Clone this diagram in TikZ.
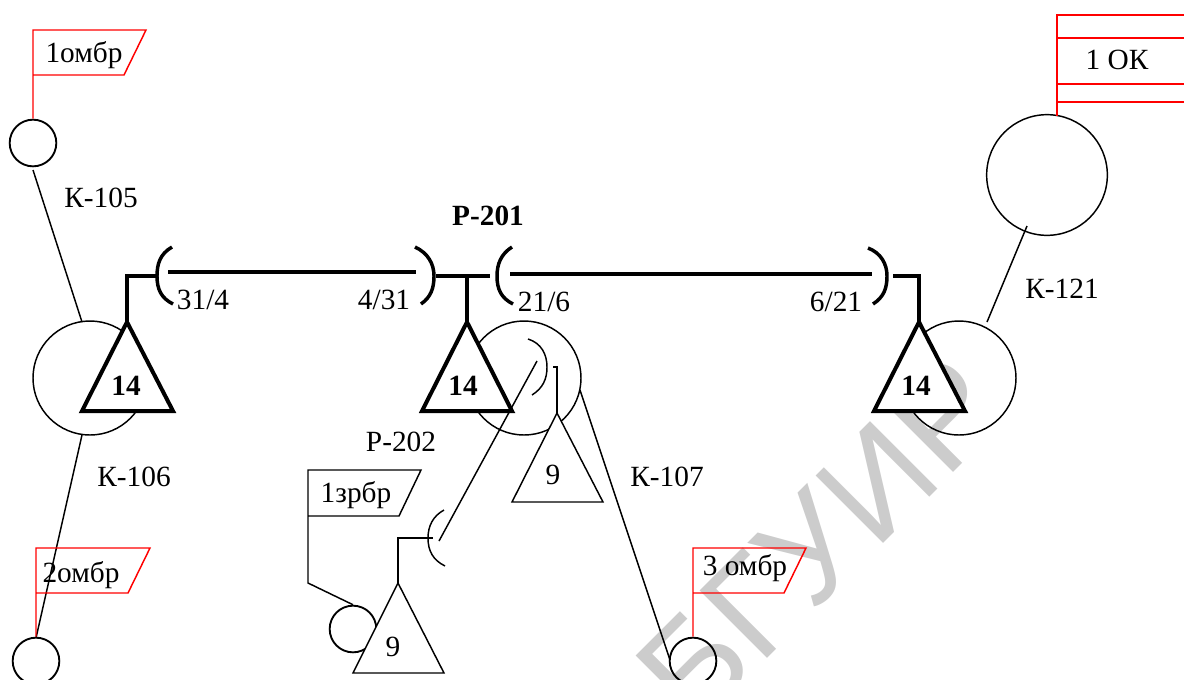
\documentclass[tikz,border=0pt]{standalone}
\usepackage{fontspec}
\setmainfont{Liberation Serif}
\newfontfamily\wmfont{Liberation Sans}
\tikzset{
  lab/.style={inner sep=0pt,font=\fontsize{22}{26}\selectfont},
  num/.style={inner sep=0pt,font=\fontsize{22}{26}\selectfont\bfseries},
  post/.style={draw,circle,line width=1.4pt,inner sep=0pt,minimum size=35pt},
  base/.style={draw,circle,line width=1.1pt,inner sep=0pt,minimum size=85.5pt},
  wire/.style={line width=1.1pt},
  heavy/.style={line width=2.3pt},
  bow/.style={line width=2.6pt},
  flagr/.style={draw=red,line width=1.1pt},
  tria/.style={draw,fill=white,line width=1.1pt,line join=miter},
  trib/.style={draw,fill=white,line width=3pt,line join=miter}
}
\begin{document}
\begin{tikzpicture}[x=0.75pt,y=-0.75pt]
\useasboundingbox (0,0) rectangle (1184,679);
%watermark
\clip (0,0) rectangle (1184,679);
\node (wm) [rotate=45,text=black!20,font=\wmfont\fontsize{104}{110}\selectfont,inner sep=0pt] at (820,540) {БГУИР};
%circles
\node (ombrone) [post] at (33,143) {};
\node (ombrtwo) [post] at (36,661) {};
\node (ombrthree) [post] at (693,661) {};
\node (zrbr) [post] at (353,629) {};
\node (baseone) [base] at (90,378) {};
\node (basetwo) [base] at (524,378) {};
\node (basethree) [base] at (959,378) {};
\node (okbase) [base,minimum size=90.5pt] at (1047,175) {};
%points
\coordinate (apexone) at (127,322);
\coordinate (apextwo) at (467,322);
\coordinate (apexthree) at (919,322);
\coordinate (apexnine) at (557,413);
\coordinate (apexlow) at (398,583);
\coordinate (kone) at (33,170);
\coordinate (ktwo) at (82,322);
\coordinate (kthree) at (82,435);
\coordinate (kfour) at (36,638);
\coordinate (kfive) at (987,322);
\coordinate (ksix) at (1027,226);
\coordinate (kseven) at (580,390);
\coordinate (keight) at (670,660);
\coordinate (rone) at (537,361);
\coordinate (rtwo) at (439,541);
%cables
\draw [wire] (kone) -- (ktwo);
\draw [wire] (kthree) -- (kfour);
\draw [wire] (kfive) -- (ksix);
\draw [wire] (kseven) -- (keight);
\draw [wire] (rone) -- (rtwo);
%flags
\draw [flagr] (ombrone.north) -- (33,30) -- (146,30) -- (124,75) -- (33,75);
\draw [flagr] (ombrtwo.north) -- (36,548) -- (150,548) -- (128,593) -- (36,593);
\draw [flagr] (ombrthree.north) -- (693,548) -- (806,548) -- (784,593) -- (693,593);
\draw [flagr] (1057,115.5) -- (1057,15) -- (1184,15);
\draw [flagr] (1057,38) -- (1184,38);
\draw [flagr] (1057,84) -- (1184,84);
\draw [flagr] (1057,102) -- (1184,102);
\draw [wire] (zrbr.north) -- (308,583) -- (308,470) -- (421,470) -- (399,516) -- (308,516);
%triangles
\draw [trib] (apexone) -- ++(-45,89) -- ++(91,0) -- cycle;
\draw [trib] (apextwo) -- ++(-45,89) -- ++(90,0) -- cycle;
\draw [trib] (apexthree) -- ++(-45,89) -- ++(91,0) -- cycle;
\draw [tria] (apexnine) -- ++(-45,89) -- ++(91,0) -- cycle;
\draw [tria] (apexlow) -- ++(-45,90) -- ++(91,0) -- cycle;
%lines
\draw [heavy] (apexone) -- (127,276) -- (157,276);
\draw [heavy] (436,276) -- (490,276);
\draw [heavy] (apextwo) -- (467,276);
\draw [heavy] (893,276) -- (919,276) -- (apexthree);
\draw [heavy] (168,272) -- (416,272);
\draw [heavy] (510,274) -- (872,274);
\draw [bow] (172,247) .. controls (160,254) and (157,264) .. (157,276) .. controls (157,289) and (161,298) .. (173,304);
\draw [bow] (415,247) .. controls (428,253) and (434,264) .. (434,276) .. controls (434,288) and (431,297) .. (421,304);
\draw [bow] (512,247) .. controls (501,254) and (497,264) .. (497,276) .. controls (497,289) and (501,298) .. (513,304);
\draw [bow] (868,248) .. controls (881,253) and (887,264) .. (887,276) .. controls (887,288) and (884,297) .. (873,304);
\draw [wire] (528,339) .. controls (541,343) and (547,354) .. (547,367) .. controls (547,379) and (543,388) .. (532,395);
\draw [wire] (553,367) -- (557,367) -- (apexnine);
\draw [wire] (apexlow) -- (398,538) -- (433,538);
\draw [wire] (444,510) .. controls (433,516) and (428,526) .. (428,538) .. controls (428,551) and (433,560) .. (445,566);
%text
\node (ombronetxt) [lab] at (84,55) {1омбр};
\node (ombrtwotxt) [lab] at (81,575) {2омбр};
\node (ombrthreetxt) [lab] at (745,568) {3 омбр};
\node (zrbrtxt) [lab] at (356,495) {1зрбр};
\node (oktxt) [lab] at (1117,60) {1 ОК};
\node (kahundredfive) [lab] at (101,198) {К-105};
\node (kahundredsix) [lab] at (134,477) {К-106};
\node (kahundredseven) [lab] at (667,477) {К-107};
\node (katwentyone) [lab] at (1062,289) {К-121};
\node (erone) [lab,font=\fontsize{22}{26}\selectfont\bfseries] at (488,216) {Р-201};
\node (ertwo) [lab] at (401,442) {Р-202};
\node (rateone) [lab] at (203,300) {31/4};
\node (ratetwo) [lab] at (384,300) {4/31};
\node (ratethree) [lab] at (544,302) {21/6};
\node (ratefour) [lab] at (836,302) {6/21};
\node (numone) [num] at (126,386) {14};
\node (numtwo) [num] at (463,386) {14};
\node (numthree) [num] at (916,386) {14};
\node (numfour) [lab] at (553,475) {9};
\node (numfive) [lab] at (393,647) {9};
\end{tikzpicture}
\end{document}
